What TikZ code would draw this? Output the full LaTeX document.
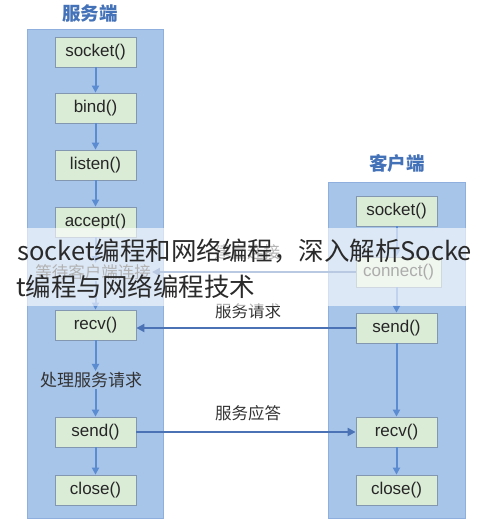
\documentclass[tikz,border=0pt]{standalone}
\usepackage{fontspec}
\setmainfont{Liberation Sans}
\newfontfamily\cjk{Noto Sans CJK SC}
\usetikzlibrary{arrows.meta}
\definecolor{colfill}{HTML}{A7C4E9}
\definecolor{colline}{HTML}{8FB0DE}
\definecolor{boxfill}{HTML}{DAEBD6}
\definecolor{boxline}{HTML}{8497B0}
\definecolor{varrow}{HTML}{5B8BD0}
\definecolor{harrow}{HTML}{4A72B5}
\definecolor{titleblue}{HTML}{4472B8}
\definecolor{labeltext}{HTML}{333333}
\definecolor{overtext}{HTML}{2A2A2A}
\begin{document}
\begin{tikzpicture}[x=1pt,y=-1pt,
  column/.style={draw=colline, fill=colfill, line width=1pt, inner sep=0pt},
  boxn/.style={draw=boxline, fill=boxfill, line width=0.8pt, minimum width=81pt, minimum height=30pt, inner sep=0pt, font=\fontsize{17}{20}\selectfont, text=black!85},
  title/.style={font=\cjk\bfseries\fontsize{18.5}{22}\selectfont, text=titleblue},
  lbl/.style={font=\cjk\fontsize{16.5}{20}\selectfont, text=labeltext, inner sep=1pt},
  varr/.style={draw=varrow, line width=2pt, -{Triangle[length=7pt,width=7pt]}},
  harr/.style={draw=harrow, line width=2.4pt, -{Triangle[length=8pt,width=8pt]}},
  overlay/.style={font=\cjk\fontsize{25.5}{30}\selectfont, text=overtext, anchor=base west, inner sep=0pt}
]
\useasboundingbox (0,0) rectangle (490,522);

% columns
\node[column, minimum width=136pt, minimum height=489pt] (scol) at (95,273.5) {};
\node[column, minimum width=137pt, minimum height=336pt] (ccol) at (396.5,350) {};

% titles
\node[title] (stitle) at (90,13) {服务端};
\node[title] (ctitle) at (397,163) {客户端};

% server boxes
\node[boxn] (ssocket) at (95.5,52) {socket()};
\node[boxn] (sbind) at (95.5,108) {bind()};
\node[boxn] (slisten) at (95.5,165) {listen()};
\node[boxn] (saccept) at (95.5,222) {accept()};
\node[lbl] (swait) at (93,272) {等待客户端连接};
\node[boxn] (srecv) at (95.5,325) {recv()};
\node[lbl, font=\cjk\fontsize{17}{20}\selectfont] (sproc) at (91,380) {处理服务请求};
\node[boxn] (ssend) at (95.5,432) {send()};
\node[boxn] (sclose) at (95.5,490) {close()};

% client boxes
\node[boxn] (csocket) at (396.5,211) {socket()};
\node[boxn, minimum width=85pt] (cconnect) at (398.5,272) {connect()};
\node[boxn] (csend) at (396.5,328) {send()};
\node[boxn] (crecv) at (396.5,432) {recv()};
\node[boxn] (cclose) at (396.5,490) {close()};

% server vertical arrows
\draw[varr] (ssocket) -- (sbind);
\draw[varr] (sbind) -- (slisten);
\draw[varr] (slisten) -- (saccept);
\draw[varr] (saccept.south) -- (saccept.south |- swait.north);
\draw[varr] (saccept.south |- swait.south) -- (srecv.north);
\draw[varr] (srecv.south) -- (srecv.south |- sproc.north);
\draw[varr] (srecv.south |- sproc.south) -- (ssend.north);
\draw[varr] (ssend) -- (sclose);

% client vertical arrows
\draw[varr] (csocket) -- (csocket.south |- cconnect.north);
\draw[varr] (csocket.south |- cconnect.south) -- (csend.north);
\draw[varr] (csend) -- (crecv);
\draw[varr] (crecv) -- (cclose);

% connection
\draw[harr] (cconnect.west) -- (swait.east);
\node[lbl] (lconn) at (247,252) {建立连接};

% request / response
\draw[harr] (csend.west) -- (csend.west -| srecv.east);
\node[lbl] (lreq) at (248,311) {服务请求};
\draw[harr] (ssend.east) -- (ssend.east -| crecv.west);
\node[lbl] (lresp) at (248,413) {服务应答};

% overlay band
\fill[white, fill opacity=0.62] (0,228) rectangle (490,306);
\node[overlay] (ov1) at (17,260) {socket编程和网络编程，深入解析Socke};
\node[overlay] (ov2) at (16,296) {t编程与网络编程技术};
\end{tikzpicture}
\end{document}
